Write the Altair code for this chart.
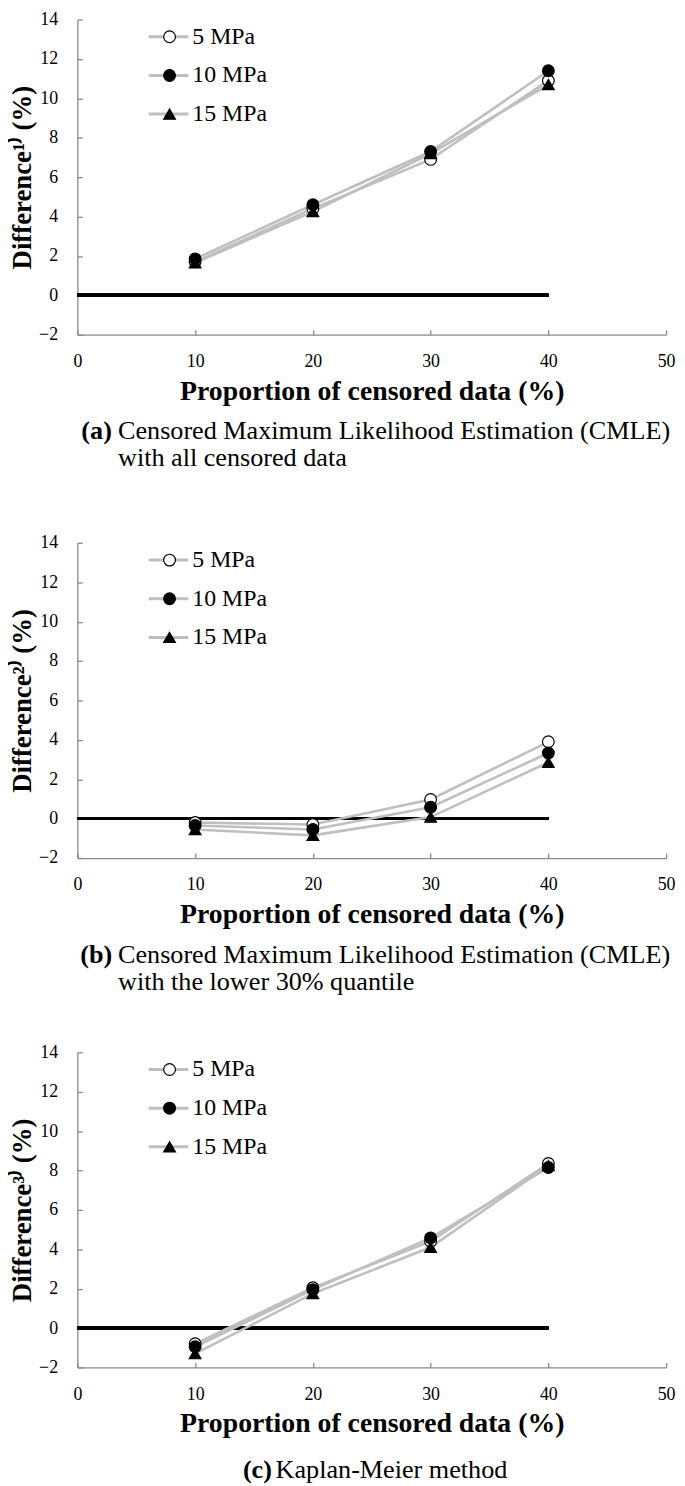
import altair as alt
import pandas as pd

# x positions (proportion of censored data, %)
X_PCT = [10, 20, 30, 40]
PRESSURES = ["5 MPa", "10 MPa", "15 MPa"]

# (a) CMLE with all censored data
A_5 = [1.7, 4.4, 6.9, 10.9]
A_10 = [1.85, 4.6, 7.3, 11.4]
A_15 = [1.65, 4.25, 7.2, 10.7]

# (b) CMLE with the lower 30% quantile
B_5 = [-0.2, -0.3, 0.97, 3.9]
B_10 = [-0.35, -0.55, 0.58, 3.33]
B_15 = [-0.55, -0.85, 0.08, 2.86]

# (c) Kaplan-Meier
C_5 = [-0.8, 2.05, 4.4, 8.35]
C_10 = [-0.95, 1.95, 4.58, 8.15]
C_15 = [-1.3, 1.75, 4.1, 8.25]

Y_TITLES = ["Difference¹⁾ (%)", "Difference²⁾ (%)", "Difference³⁾ (%)"]
X_TITLE = "Proportion of censored data (%)"
TAGS = ["(a)", "(b)", "(c)"]
CAPTIONS = [
    ["Censored Maximum Likelihood Estimation (CMLE)", "with all censored data"],
    ["Censored Maximum Likelihood Estimation (CMLE)", "with the lower 30% quantile"],
    ["Kaplan-Meier method"],
]
X_TICKS = [0, 10, 20, 30, 40, 50]
Y_TICKS = [-2, 0, 2, 4, 6, 8, 10, 12, 14]
ZERO_LINE_END = 40

W, H = 594, 318
FONT = "Liberation Serif"
LINE_GRAY = "#bfbfbf"
AXIS_GRAY = "#8a8a8a"
CAP_SIZE = 26.4


def panel(series, y_title, tag, caption, tag_x, text_x, cap_y):
    rows = []
    for p, vals in zip(PRESSURES, series):
        for x, v in zip(X_PCT, vals):
            rows.append({"x": x, "value": v, "pressure": p, "line": p})
    df = pd.DataFrame(rows)

    xs = alt.Scale(domain=[0, 50], nice=False)
    ys = alt.Scale(domain=[-2, 14], nice=False)

    zero = alt.Chart(df).mark_rule(color="black", strokeWidth=3).encode(
        x=alt.XDatum(0, type="quantitative", scale=xs, axis=None),
        x2=alt.X2Datum(ZERO_LINE_END),
        y=alt.YDatum(0, type="quantitative", scale=ys, axis=None),
    )

    # gray connecting lines; their legend only draws the gray strokes
    lines = alt.Chart(df).mark_line(strokeWidth=2.6).encode(
        x=alt.X("x:Q", scale=xs, axis=alt.Axis(
            values=X_TICKS, ticks=False, labelPadding=18, labelFontSize=18,
            labelFlush=False, labelColor="black", domainColor=AXIS_GRAY, domainWidth=1.3,
            title=X_TITLE, titleFontSize=28, titleFontWeight="bold",
            titleColor="black", titlePadding=7, grid=False)),
        y=alt.Y("value:Q", scale=ys, axis=alt.Axis(
            values=Y_TICKS, ticks=False, labelPadding=20, labelFontSize=18,
            labelColor="black", domainColor=AXIS_GRAY, domainWidth=1.3,
            title=y_title, titleFontSize=27, titleFontWeight="bold",
            titleColor="black", titlePadding=2, grid=False)),
        color=alt.Color("line:N", scale=alt.Scale(range=[LINE_GRAY] * 3),
                        legend=alt.Legend(orient="none", legendX=70.5, legendY=5.4,
                                          title=None, symbolType="stroke", symbolSize=1600,
                                          symbolStrokeWidth=3, labelExpr="''",
                                          labelFontSize=24, clipHeight=24, rowPadding=15,
                                          padding=0, zindex=0)),
        detail="pressure:N",
    )

    mark_legend = alt.Legend(orient="none", legendX=81, legendY=5.4, title=None,
                             labelFont=FONT, labelFontSize=24, labelColor="black",
                             labelOffset=11, rowPadding=15, symbolSize=140,
                             symbolStrokeWidth=1.2, padding=0, zindex=1)
    points = alt.Chart(df).mark_point(filled=True, strokeWidth=1.2,
                                      size=140, opacity=1).encode(
        x=alt.X("x:Q", scale=xs, axis=alt.Axis(
            orient="top", offset=-H, values=X_TICKS, labels=False, domain=False,
            tickSize=5, tickColor=AXIS_GRAY, tickWidth=1.3, title=None, grid=False)),
        y=alt.Y("value:Q", scale=ys, axis=alt.Axis(
            orient="right", offset=-W, values=Y_TICKS, labels=False, domain=False,
            tickSize=5, tickColor=AXIS_GRAY, tickWidth=1.3, title=None, grid=False)),
        shape=alt.Shape("pressure:N", scale=alt.Scale(domain=PRESSURES,
                        range=["circle", "circle", "triangle-up"]), legend=mark_legend),
        fill=alt.Fill("pressure:N", scale=alt.Scale(domain=PRESSURES,
                      range=["white", "black", "black"]), legend=mark_legend),
        stroke=alt.Stroke("pressure:N", scale=alt.Scale(domain=PRESSURES,
                          range=["black", "black", "black"]), legend=mark_legend),
        order=alt.Order("order:Q"),
    ).transform_calculate(order="indexof(['5 MPa','10 MPa','15 MPa'], datum.pressure)")

    one = pd.DataFrame({"k": [0]})
    layers = [zero, lines, points,
              alt.Chart(one).mark_text(text=tag, font=FONT, fontSize=CAP_SIZE, fontWeight="bold",
                                       align="left", baseline="middle", color="black")
              .encode(x=alt.value(tag_x), y=alt.value(H + cap_y[0]))]
    for i, line in enumerate(caption):
        layers.append(
            alt.Chart(one).mark_text(text=line, font=FONT, fontSize=CAP_SIZE, align="left",
                                     baseline="middle", color="black")
            .encode(x=alt.value(text_x), y=alt.value(H + cap_y[i]))
        )
    return alt.layer(*layers).resolve_axis(x="independent", y="independent").properties(
        width=W, height=H)


pa = panel([A_5, A_10, A_15], Y_TITLES[0], TAGS[0], CAPTIONS[0], 4, 41, [97, 124])
pb = panel([B_5, B_10, B_15], Y_TITLES[1], TAGS[1], CAPTIONS[1], 3, 41, [98, 125])
pc = panel([C_5, C_10, C_15], Y_TITLES[2], TAGS[2], CAPTIONS[2], 167, 200, [104])

indep = dict(color="independent", fill="independent", shape="independent",
             stroke="independent")
top = alt.vconcat(pa, pb, spacing=63).resolve_scale(**indep)
chart = alt.vconcat(top, pc, spacing=48).resolve_scale(**indep).properties(
    padding={"left": 0, "top": -4, "right": 2, "bottom": 0}
).configure(font=FONT).configure_view(stroke=None)

chart.save("out.html", embed_options={"renderer": "svg", "actions": False})
